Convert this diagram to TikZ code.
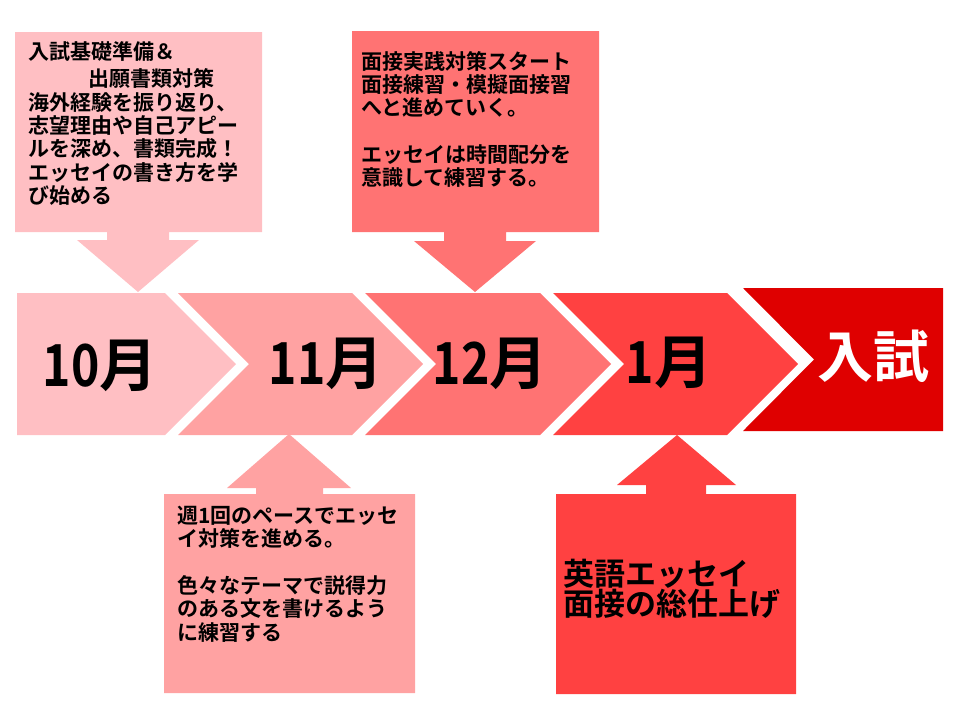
\documentclass[tikz,border=0pt]{standalone}
\usepackage{fontspec}
\usepackage{graphicx}
\setmainfont{Noto Sans CJK JP}[BoldFont=Noto Sans CJK JP Bold]
\definecolor{cA}{HTML}{FFBFC3}
\definecolor{cB}{HTML}{FFA2A2}
\definecolor{cC}{HTML}{FF7373}
\definecolor{cD}{HTML}{FF4141}
\definecolor{cE}{HTML}{DF0000}
\newcommand{\dg}[1]{\scalebox{0.83}[1]{#1}}
\begin{document}
\begin{tikzpicture}[x=1pt,y=-1pt,
  ctext/.style={anchor=north west, inner sep=0pt, align=left, font=\fontsize{21}{23.3}\selectfont\bfseries},
  month/.style={inner sep=0pt, font=\fontsize{58}{60}\selectfont\bfseries}]
\useasboundingbox (0,0) rectangle (960,720);
% chevrons
\fill[cA] (17,293) -- (165,293) -- (236,364) -- (165,435) -- (17,435) -- cycle;
\fill[cB] (178,293) -- (352,293) -- (423,364) -- (352,435) -- (178,435) -- (249,364) -- cycle;
\fill[cC] (365,293) -- (540,293) -- (611,364) -- (540,435) -- (365,435) -- (436,364) -- cycle;
\fill[cD] (553,293) -- (727,293) -- (798,364) -- (727,435) -- (553,435) -- (624,364) -- cycle;
\fill[cE] (743,288) -- (943,288) -- (943,431) -- (743,431) -- (814,359.5) -- cycle;
% callouts
\fill[cA] (15,32) -- (262,32) -- (262,232) -- (169,232) -- (169,240) -- (199,240) -- (138,292) -- (77,240) -- (107,240) -- (107,232) -- (15,232) -- cycle;
\fill[cC] (352,31) -- (599,31) -- (599,232) -- (506,232) -- (506,241) -- (536,241) -- (475,292) -- (414,241) -- (444,241) -- (444,232) -- (352,232) -- cycle;
\fill[cB] (164,693) -- (164,494) -- (256,494) -- (256,488) -- (227,488) -- (289,434) -- (351,488) -- (323,488) -- (323,494) -- (415,494) -- (415,693) -- cycle;
\fill[cD] (556,694) -- (556,494) -- (646,494) -- (646,485) -- (617,485) -- (677,435) -- (736,485) -- (706,485) -- (706,494) -- (796,494) -- (796,694) -- cycle;
% month labels
\node[month] (m10) at (100,366) {\dg{10}月};
\node[month] (m11) at (326,364) {\dg{11}月};
\node[month] (m12) at (490,364) {\dg{12}月};
\node[month] (m1) at (669,363) {\dg{1}月};
\node[month, text=white, font=\fontsize{56}{60}\selectfont\bfseries] (exam) at (873,356) {入試};
% callout texts
\node[ctext] (t1) at (28,41) {入試基礎準備＆\\[4.5pt]\hspace{60pt}出願書類対策\\海外経験を振り返り、\\志望理由や自己アピー\\ルを深め、書類完成！\\エッセイの書き方を学\\び始める};
\node[ctext] (t2) at (361,51) {面接実践対策スタート\\面接練習・模擬面接習\\へと進めていく。\\[23.3pt]エッセイは時間配分を\\意識して練習する。};
\node[ctext] (t3) at (177,506) {週1回のペースでエッセ\\イ対策を進める。\\[23.3pt]色々なテーマで説得力\\のある文を書けるよう\\に練習する};
\node[ctext, font=\fontsize{31}{30}\selectfont\bfseries] (t4) at (563,559) {英語エッセイ\\面接の総仕上げ};
\end{tikzpicture}
\end{document}
